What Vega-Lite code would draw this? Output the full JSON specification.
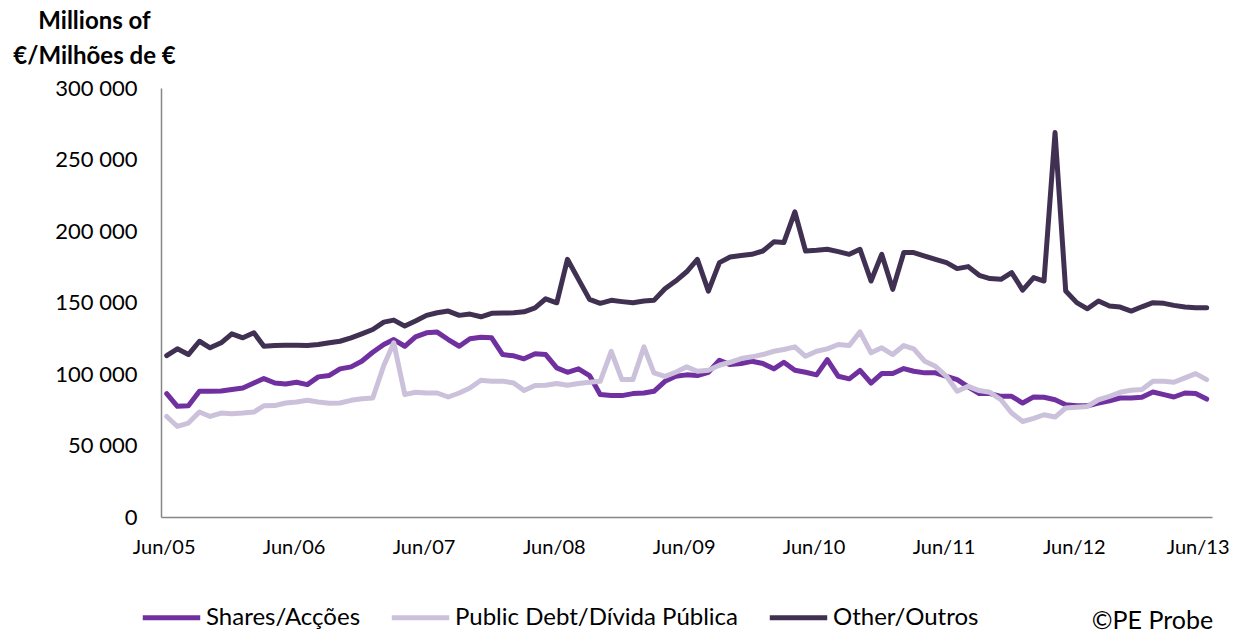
{
  "$schema": "https://vega.github.io/schema/vega-lite/v6.json",
  "width": 1051,
  "height": 429,
  "autosize": {"type": "none"},
  "padding": {"left": 161, "top": 88, "right": 47, "bottom": 117},
  "background": "white",
  "config": {"view": {"stroke": null}, "font": "Lato"},
  "data": {"values": [
    {"date": "2005-06-01", "shares": 86300, "debt": 70300, "other": 112900},
    {"date": "2005-07-01", "shares": 77400, "debt": 63300, "other": 117600},
    {"date": "2005-08-01", "shares": 77800, "debt": 65700, "other": 113600},
    {"date": "2005-09-01", "shares": 87900, "debt": 73400, "other": 122900},
    {"date": "2005-10-01", "shares": 87900, "debt": 70300, "other": 118300},
    {"date": "2005-11-01", "shares": 88100, "debt": 72700, "other": 121800},
    {"date": "2005-12-01", "shares": 89100, "debt": 72200, "other": 128100},
    {"date": "2006-01-01", "shares": 90200, "debt": 72700, "other": 125300},
    {"date": "2006-02-01", "shares": 93700, "debt": 73400, "other": 128800},
    {"date": "2006-03-01", "shares": 96800, "debt": 77800, "other": 119400},
    {"date": "2006-04-01", "shares": 93700, "debt": 77900, "other": 119900},
    {"date": "2006-05-01", "shares": 93000, "debt": 79700, "other": 120100},
    {"date": "2006-06-01", "shares": 94200, "debt": 80400, "other": 120100},
    {"date": "2006-07-01", "shares": 92600, "debt": 81600, "other": 120000},
    {"date": "2006-08-01", "shares": 98000, "debt": 80400, "other": 120600},
    {"date": "2006-09-01", "shares": 99000, "debt": 79500, "other": 121800},
    {"date": "2006-10-01", "shares": 103600, "debt": 79700, "other": 122900},
    {"date": "2006-11-01", "shares": 105000, "debt": 81600, "other": 125300},
    {"date": "2006-12-01", "shares": 108900, "debt": 82700, "other": 128100},
    {"date": "2007-01-01", "shares": 115200, "debt": 83200, "other": 131100},
    {"date": "2007-02-01", "shares": 120600, "debt": 105900, "other": 136300},
    {"date": "2007-03-01", "shares": 124100, "debt": 121800, "other": 137700},
    {"date": "2007-04-01", "shares": 119400, "debt": 85600, "other": 133500},
    {"date": "2007-05-01", "shares": 126000, "debt": 87200, "other": 137000},
    {"date": "2007-06-01", "shares": 128800, "debt": 86700, "other": 141000},
    {"date": "2007-07-01", "shares": 129300, "debt": 86700, "other": 142800},
    {"date": "2007-08-01", "shares": 124100, "debt": 83900, "other": 144000},
    {"date": "2007-09-01", "shares": 119400, "debt": 86700, "other": 141000},
    {"date": "2007-10-01", "shares": 124600, "debt": 90200, "other": 141900},
    {"date": "2007-11-01", "shares": 125700, "debt": 95600, "other": 140000},
    {"date": "2007-12-01", "shares": 125300, "debt": 94900, "other": 142400},
    {"date": "2008-01-01", "shares": 113600, "debt": 95000, "other": 142600},
    {"date": "2008-02-01", "shares": 112700, "debt": 93700, "other": 142800},
    {"date": "2008-03-01", "shares": 110600, "debt": 88400, "other": 143500},
    {"date": "2008-04-01", "shares": 114100, "debt": 91900, "other": 146300},
    {"date": "2008-05-01", "shares": 113600, "debt": 92100, "other": 152600},
    {"date": "2008-06-01", "shares": 104300, "debt": 93300, "other": 149800},
    {"date": "2008-07-01", "shares": 101200, "debt": 92100, "other": 180200},
    {"date": "2008-08-01", "shares": 103600, "debt": 93300, "other": 166200},
    {"date": "2008-09-01", "shares": 98900, "debt": 94200, "other": 152200},
    {"date": "2008-10-01", "shares": 85600, "debt": 94900, "other": 149400},
    {"date": "2008-11-01", "shares": 84900, "debt": 115900, "other": 151500},
    {"date": "2008-12-01", "shares": 84900, "debt": 96100, "other": 150600},
    {"date": "2009-01-01", "shares": 86300, "debt": 96100, "other": 149800},
    {"date": "2009-02-01", "shares": 86700, "debt": 119000, "other": 151000},
    {"date": "2009-03-01", "shares": 87900, "debt": 100800, "other": 151500},
    {"date": "2009-04-01", "shares": 94900, "debt": 98400, "other": 159600},
    {"date": "2009-05-01", "shares": 98400, "debt": 101200, "other": 165000},
    {"date": "2009-06-01", "shares": 99400, "debt": 105000, "other": 171500},
    {"date": "2009-07-01", "shares": 98900, "debt": 101900, "other": 180200},
    {"date": "2009-08-01", "shares": 101200, "debt": 102600, "other": 158000},
    {"date": "2009-09-01", "shares": 109600, "debt": 106100, "other": 177900},
    {"date": "2009-10-01", "shares": 106600, "debt": 108200, "other": 181800},
    {"date": "2009-11-01", "shares": 107300, "debt": 110800, "other": 182800},
    {"date": "2009-12-01", "shares": 108900, "debt": 112000, "other": 183700},
    {"date": "2010-01-01", "shares": 107300, "debt": 113600, "other": 186000},
    {"date": "2010-02-01", "shares": 103600, "debt": 115900, "other": 192400},
    {"date": "2010-03-01", "shares": 108200, "debt": 117100, "other": 191900},
    {"date": "2010-04-01", "shares": 102600, "debt": 119000, "other": 213400},
    {"date": "2010-05-01", "shares": 101200, "debt": 112400, "other": 186000},
    {"date": "2010-06-01", "shares": 99400, "debt": 115900, "other": 186500},
    {"date": "2010-07-01", "shares": 110100, "debt": 117600, "other": 187200},
    {"date": "2010-08-01", "shares": 98400, "debt": 120600, "other": 185600},
    {"date": "2010-09-01", "shares": 96600, "debt": 119900, "other": 183700},
    {"date": "2010-10-01", "shares": 102500, "debt": 129500, "other": 187200},
    {"date": "2010-11-01", "shares": 93700, "debt": 114800, "other": 165000},
    {"date": "2010-12-01", "shares": 100300, "debt": 118300, "other": 183700},
    {"date": "2011-01-01", "shares": 100300, "debt": 113600, "other": 159200},
    {"date": "2011-02-01", "shares": 103800, "debt": 119900, "other": 184900},
    {"date": "2011-03-01", "shares": 101900, "debt": 117600, "other": 184900},
    {"date": "2011-04-01", "shares": 100800, "debt": 108900, "other": 182500},
    {"date": "2011-05-01", "shares": 100800, "debt": 105400, "other": 180200},
    {"date": "2011-06-01", "shares": 98400, "debt": 98400, "other": 177900},
    {"date": "2011-07-01", "shares": 96100, "debt": 87900, "other": 173700},
    {"date": "2011-08-01", "shares": 91000, "debt": 91400, "other": 175100},
    {"date": "2011-09-01", "shares": 86300, "debt": 88400, "other": 169000},
    {"date": "2011-10-01", "shares": 86300, "debt": 87200, "other": 166700},
    {"date": "2011-11-01", "shares": 84400, "debt": 82000, "other": 166200},
    {"date": "2011-12-01", "shares": 84400, "debt": 72700, "other": 170900},
    {"date": "2012-01-01", "shares": 79700, "debt": 66800, "other": 158700},
    {"date": "2012-02-01", "shares": 84000, "debt": 69000, "other": 167400},
    {"date": "2012-03-01", "shares": 83700, "debt": 71500, "other": 165000},
    {"date": "2012-04-01", "shares": 82000, "debt": 69900, "other": 268800},
    {"date": "2012-05-01", "shares": 78500, "debt": 76200, "other": 158000},
    {"date": "2012-06-01", "shares": 77800, "debt": 76700, "other": 149900},
    {"date": "2012-07-01", "shares": 77800, "debt": 77300, "other": 145600},
    {"date": "2012-08-01", "shares": 79700, "debt": 82000, "other": 151000},
    {"date": "2012-09-01", "shares": 81300, "debt": 84400, "other": 147500},
    {"date": "2012-10-01", "shares": 83200, "debt": 87200, "other": 146800},
    {"date": "2012-11-01", "shares": 83200, "debt": 88600, "other": 144000},
    {"date": "2012-12-01", "shares": 83700, "debt": 89100, "other": 147000},
    {"date": "2013-01-01", "shares": 87400, "debt": 94900, "other": 149900},
    {"date": "2013-02-01", "shares": 85600, "debt": 94900, "other": 149400},
    {"date": "2013-03-01", "shares": 83900, "debt": 94200, "other": 148000},
    {"date": "2013-04-01", "shares": 86700, "debt": 97300, "other": 146800},
    {"date": "2013-05-01", "shares": 86300, "debt": 100300, "other": 146300},
    {"date": "2013-06-01", "shares": 82500, "debt": 96100, "other": 146300}
  ]},
  "transform": [{"fold": ["shares", "debt", "other"], "as": ["series", "value"]}],
  "mark": {"type": "line", "strokeWidth": 5, "strokeJoin": "round", "strokeCap": "round"},
  "encoding": {
    "x": {
      "field": "date",
      "type": "temporal",
      "scale": {
        "type": "utc",
        "domain": [
          {"year": 2005, "month": 5, "date": 16, "utc": true},
          {"year": 2013, "month": 6, "date": 16, "utc": true}
        ]
      },
      "axis": {
        "values": [
          {"year": 2005, "month": 6, "date": 1, "utc": true},
          {"year": 2006, "month": 6, "date": 1, "utc": true},
          {"year": 2007, "month": 6, "date": 1, "utc": true},
          {"year": 2008, "month": 6, "date": 1, "utc": true},
          {"year": 2009, "month": 6, "date": 1, "utc": true},
          {"year": 2010, "month": 6, "date": 1, "utc": true},
          {"year": 2011, "month": 6, "date": 1, "utc": true},
          {"year": 2012, "month": 6, "date": 1, "utc": true},
          {"year": 2013, "month": 6, "date": 1, "utc": true}
        ],
        "format": "%b/%y",
        "grid": false,
        "ticks": false,
        "domainColor": "#868686",
        "domainWidth": 1.5,
        "labelFont": "Lato",
        "labelFontSize": 20,
        "labelColor": "#000000",
        "labelPadding": 20,
        "labelFlush": false,
        "labelOverlap": false,
        "labelOffset": {"condition": {"test": "utcyear(datum.value) == 2013", "value": -9}, "value": -3},
        "title": "©PE Probe",
        "titleFont": "Lato",
        "titleFontSize": 25,
        "titleFontWeight": "normal",
        "titleColor": "#000000",
        "titleX": 991,
        "titleY": 103,
        "titleAlign": "center",
        "titleBaseline": "middle"
      }
    },
    "y": {
      "field": "value",
      "type": "quantitative",
      "scale": {"domain": [0, 300000], "nice": false},
      "axis": {
        "values": [0, 50000, 100000, 150000, 200000, 250000, 300000],
        "labelExpr": "replace(format(datum.value, ','), ',', ' ')",
        "grid": false,
        "ticks": false,
        "domainColor": "#868686",
        "domainWidth": 1.5,
        "labelFont": "Lato",
        "labelFontSize": 22,
        "labelColor": "#000000",
        "labelPadding": 24,
        "title": ["Millions of", "€/Milhões de €"],
        "titleFont": "Lato",
        "titleFontSize": 24,
        "titleFontWeight": "bold",
        "titleColor": "#000000",
        "titleAngle": 0,
        "titleX": -67,
        "titleY": -79,
        "titleAlign": "center",
        "titleBaseline": "top",
        "titleLineHeight": 35
      }
    },
    "color": {
      "field": "series",
      "type": "nominal",
      "scale": {
        "domain": ["shares", "debt", "other"],
        "range": ["#7030A0", "#CCC1DA", "#403152"]
      },
      "legend": {
        "orient": "none",
        "legendX": -21,
        "legendY": 498,
        "direction": "horizontal",
        "title": null,
        "symbolType": "stroke",
        "symbolStrokeWidth": 5,
        "symbolSize": 3300,
        "labelFont": "Lato",
        "labelFontSize": 24,
        "labelColor": "#000000",
        "labelOffset": 3,
        "columnPadding": 20,
        "labelLimit": 400,
        "labelExpr": "datum.label == 'shares' ? 'Shares/Acções' : datum.label == 'debt' ? 'Public Debt/Dívida Pública' : 'Other/Outros'"
      }
    }
  }
}
